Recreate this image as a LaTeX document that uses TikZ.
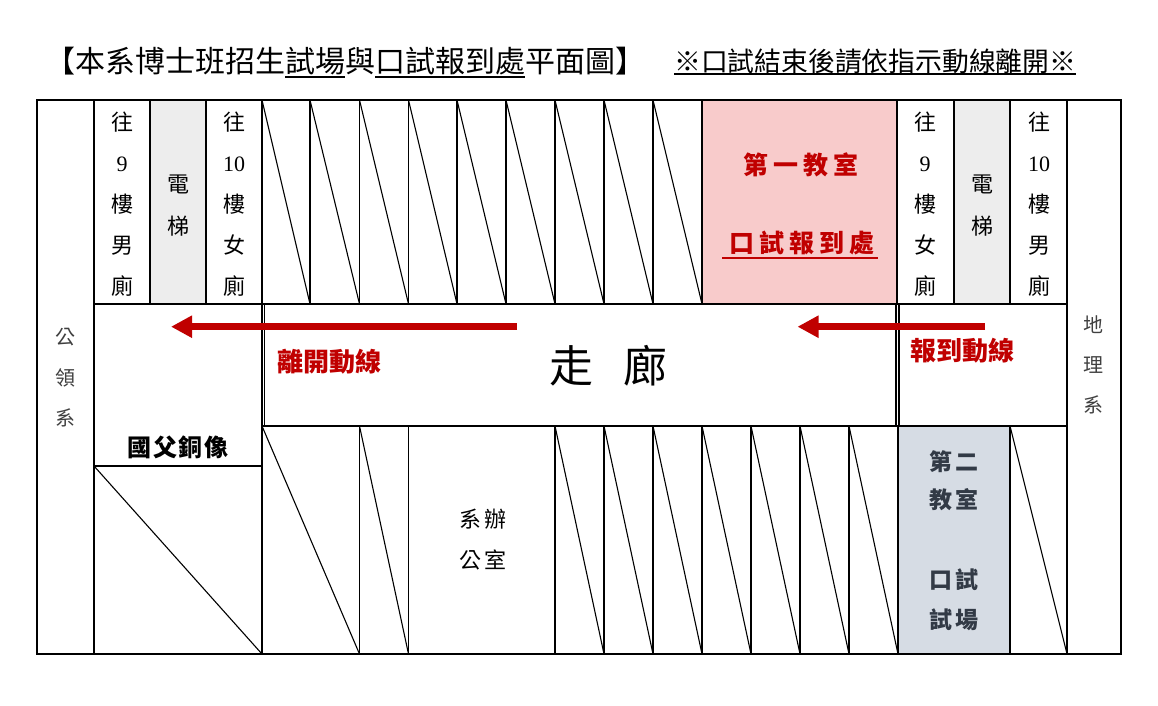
\documentclass[tikz,border=0pt]{standalone}
\usepackage{fontspec}
\newfontfamily\cjk{Noto Sans CJK TC}
\newfontfamily\dig{Liberation Serif}
\usetikzlibrary{arrows.meta}
\definecolor{pinkroom}{HTML}{F8CBCB}
\definecolor{liftgray}{HTML}{EDEDED}
\definecolor{bluegray}{HTML}{D6DCE4}
\definecolor{darkred}{HTML}{C00000}
\definecolor{slatetext}{HTML}{323A46}
\definecolor{sidegray}{HTML}{404040}
\tikzset{
  wall/.style={line width=1.5pt, draw=black},
  diag/.style={line width=1.1pt, draw=black},
  lbl/.style={inner sep=0pt, align=center, font=\cjk},
  redarrow/.style={line width=7pt, draw=darkred, -{Triangle[length=21pt,width=21pt]}},
}
\begin{document}
\begin{tikzpicture}[x=1pt,y=-1pt]
\useasboundingbox[fill=white] (0,0) rectangle (1158,706);
% fills
\fill[liftgray] (150,100) rectangle (206,304);
\fill[liftgray] (954,100) rectangle (1010,304);
\fill[pinkroom] (702,100) rectangle (897,304);
\fill[bluegray] (898,426) rectangle (1010,654);
% outer wall and side columns
\draw[wall] (37,100) rectangle (1121,654);
\draw[wall] (94,100) -- (94,654);
\draw[wall] (1067,100) -- (1067,654);
% top row
\draw[wall] (94,304) -- (1067,304);
\foreach \x in {150,206,262,310,359.5,408.5,457,506,555,604,653,702,897,954,1010}
  \draw[wall] (\x,100) -- (\x,304);
\foreach \a/\b in {262/310,310/359.5,359.5/408.5,408.5/457,457/506,506/555,555/604,604/653,653/702}
  \draw[diag] (\a,100) -- (\b,304);
% corridor level
\draw[wall] (94,304) rectangle (262,466);
\draw[wall] (264.5,304) rectangle (896,426);
\draw[wall] (899,304) rectangle (1067,426);
\draw[wall] (262,426) -- (1067,426);
% bottom row
\draw[wall] (262,304) -- (262,654);
\foreach \x in {359.5,408.5,555,604,653,702,751,800,849,898,1010}
  \draw[wall] (\x,426) -- (\x,654);
\foreach \a/\b in {262/359.5,359.5/408.5,555/604,604/653,653/702,702/751,751/800,800/849,849/898,1010/1067}
  \draw[diag] (\a,426) -- (\b,654);
\draw[diag] (94,466) -- (262,654);
% titles
\node[lbl, anchor=west, font=\cjk\fontsize{30}{30}\selectfont] (title) at (45,61) {【本系博士班招生試場與口試報到處平面圖】};
\draw[line width=1.5pt] (285,77) -- (345,77);
\draw[line width=1.5pt] (375,77) -- (525,77);
\node[lbl, anchor=west, font=\cjk\fontsize{26.8}{26.8}\selectfont] (note) at (674,61) {※口試結束後請依指示動線離開※};
\draw[line width=1.2pt] (674,74) -- (1076,74);
% top row labels
\node[lbl, font=\cjk\fontsize{22}{41}\selectfont] (wc9l) at (122,204) {往\\{\dig 9}\\樓\\男\\廁};
\node[lbl, font=\cjk\fontsize{22}{42}\selectfont] (liftl) at (178,206) {電\\梯};
\node[lbl, font=\cjk\fontsize{22}{41}\selectfont] (wc10l) at (234,204) {往\\{\dig 10}\\樓\\女\\廁};
\node[lbl, font=\cjk\fontsize{22}{41}\selectfont] (wc9r) at (925,204) {往\\{\dig 9}\\樓\\女\\廁};
\node[lbl, font=\cjk\fontsize{22}{42}\selectfont] (liftr) at (982,206) {電\\梯};
\node[lbl, font=\cjk\fontsize{22}{41}\selectfont] (wc10r) at (1039,204) {往\\{\dig 10}\\樓\\男\\廁};
\node[lbl, text=darkred, font=\cjk\bfseries\fontsize{25}{25}\selectfont] (room1) at (801,165) {第\hspace{5pt}一\hspace{5pt}教\hspace{5pt}室};
\node[lbl, text=darkred, font=\cjk\bfseries\fontsize{25}{25}\selectfont] (checkin) at (802,243) {口\hspace{5pt}試\hspace{5pt}報\hspace{5pt}到\hspace{5pt}處};
\draw[darkred, line width=1.6pt] (722,258) -- (878,258);
% side labels
\node[lbl, text=sidegray, font=\cjk\fontsize{20}{40.5}\selectfont] (gonglin) at (65,378) {公\\領\\系};
\node[lbl, text=sidegray, font=\cjk\fontsize{20}{40}\selectfont] (geo) at (1093,365) {地\\理\\系};
% corridor
\node[lbl, font=\cjk\fontsize{44}{44}\selectfont] (corr) at (608.5,366) {走\hspace{31pt}廊};
\node[lbl, text=darkred, font=\cjk\bfseries\fontsize{26}{26}\selectfont] (leave) at (329,362) {離開動線};
\node[lbl, text=darkred, font=\cjk\bfseries\fontsize{26}{26}\selectfont] (arrive) at (962,351) {報到動線};
\node[lbl, font=\cjk\bfseries\fontsize{24}{24}\selectfont] (statue) at (178,447) {國\hspace{1.5pt}父\hspace{1.5pt}銅\hspace{1.5pt}像};
% bottom row labels
\node[lbl, font=\cjk\fontsize{22}{41}\selectfont] (office) at (483,540) {系\hspace{3pt}辦\\公\hspace{3pt}室};
\node[lbl, text=slatetext, font=\cjk\bfseries\fontsize{23}{38}\selectfont] (room2) at (954,481) {第\hspace{3pt}二\\教\hspace{3pt}室};
\node[lbl, text=slatetext, font=\cjk\bfseries\fontsize{23}{40}\selectfont] (exam) at (954,600) {口\hspace{3pt}試\\試\hspace{3pt}場};
% arrows
\coordinate (leaveS) at (517,326.7);
\coordinate (leaveE) at (171,326.7);
\coordinate (arriveS) at (985,326.7);
\coordinate (arriveE) at (797.5,326.7);
\draw[redarrow] (leaveS) -- (leaveE);
\draw[redarrow] (arriveS) -- (arriveE);
\end{tikzpicture}
\end{document}
